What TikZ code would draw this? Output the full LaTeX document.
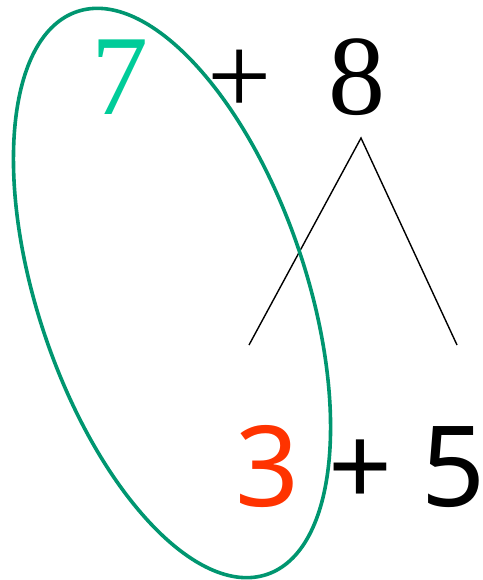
\documentclass[tikz,border=0pt]{standalone}
\usepackage{fontspec}
\setmainfont{Liberation Serif}
\setsansfont{Noto Sans}
\usepackage{graphicx}
\usepackage{tikz}
\usetikzlibrary{positioning}
\usepackage{xcolor}

\definecolor{sevengreen}{RGB}{0,204,153}
\definecolor{threered}{RGB}{255,51,0}
\definecolor{loopgreen}{RGB}{0,150,112}
\newcommand{\twice}[1]{\scalebox{2}{#1}}

\begin{document}
\begin{tikzpicture}[x=1pt, y=-1pt,
    toprow/.style={inner sep=0pt, anchor=base, font=\rmfamily\fontsize{57}{57}\selectfont},
    botrow/.style={inner sep=0pt, anchor=base, font=\sffamily\fontsize{56}{56}\selectfont}]
    \useasboundingbox (0,0) rectangle (482,580);

    % top row: 7 + 8
    \node[toprow, sevengreen] (seven) at (120,115) {\twice{7}};
    \node[toprow] (plusA) at (240,115) {\twice{+}};
    \node[toprow] (eight) at (357,115) {\twice{8}};

    % bottom row: 3 + 5
    \node[botrow, threered] (three) at (268,506) {\twice{3}};
    \node[botrow] (plusB) at (361,506) {\twice{+}};
    \node[botrow] (five) at (454,506) {\twice{5}};

    % split of 8 into two legs
    \coordinate (apex) at (361,138);
    \coordinate (legL) at (249,345);
    \coordinate (legR) at (457,345);
    \draw[line width=1.4pt] (legL) -- (apex) -- (legR);

    % loop round 7 and 3 (making ten)
    \draw[loopgreen, line width=3.6pt, rotate around={-71.35:(172,293)}]
        (172,293) ellipse (297 and 134);
\end{tikzpicture}
\end{document}
